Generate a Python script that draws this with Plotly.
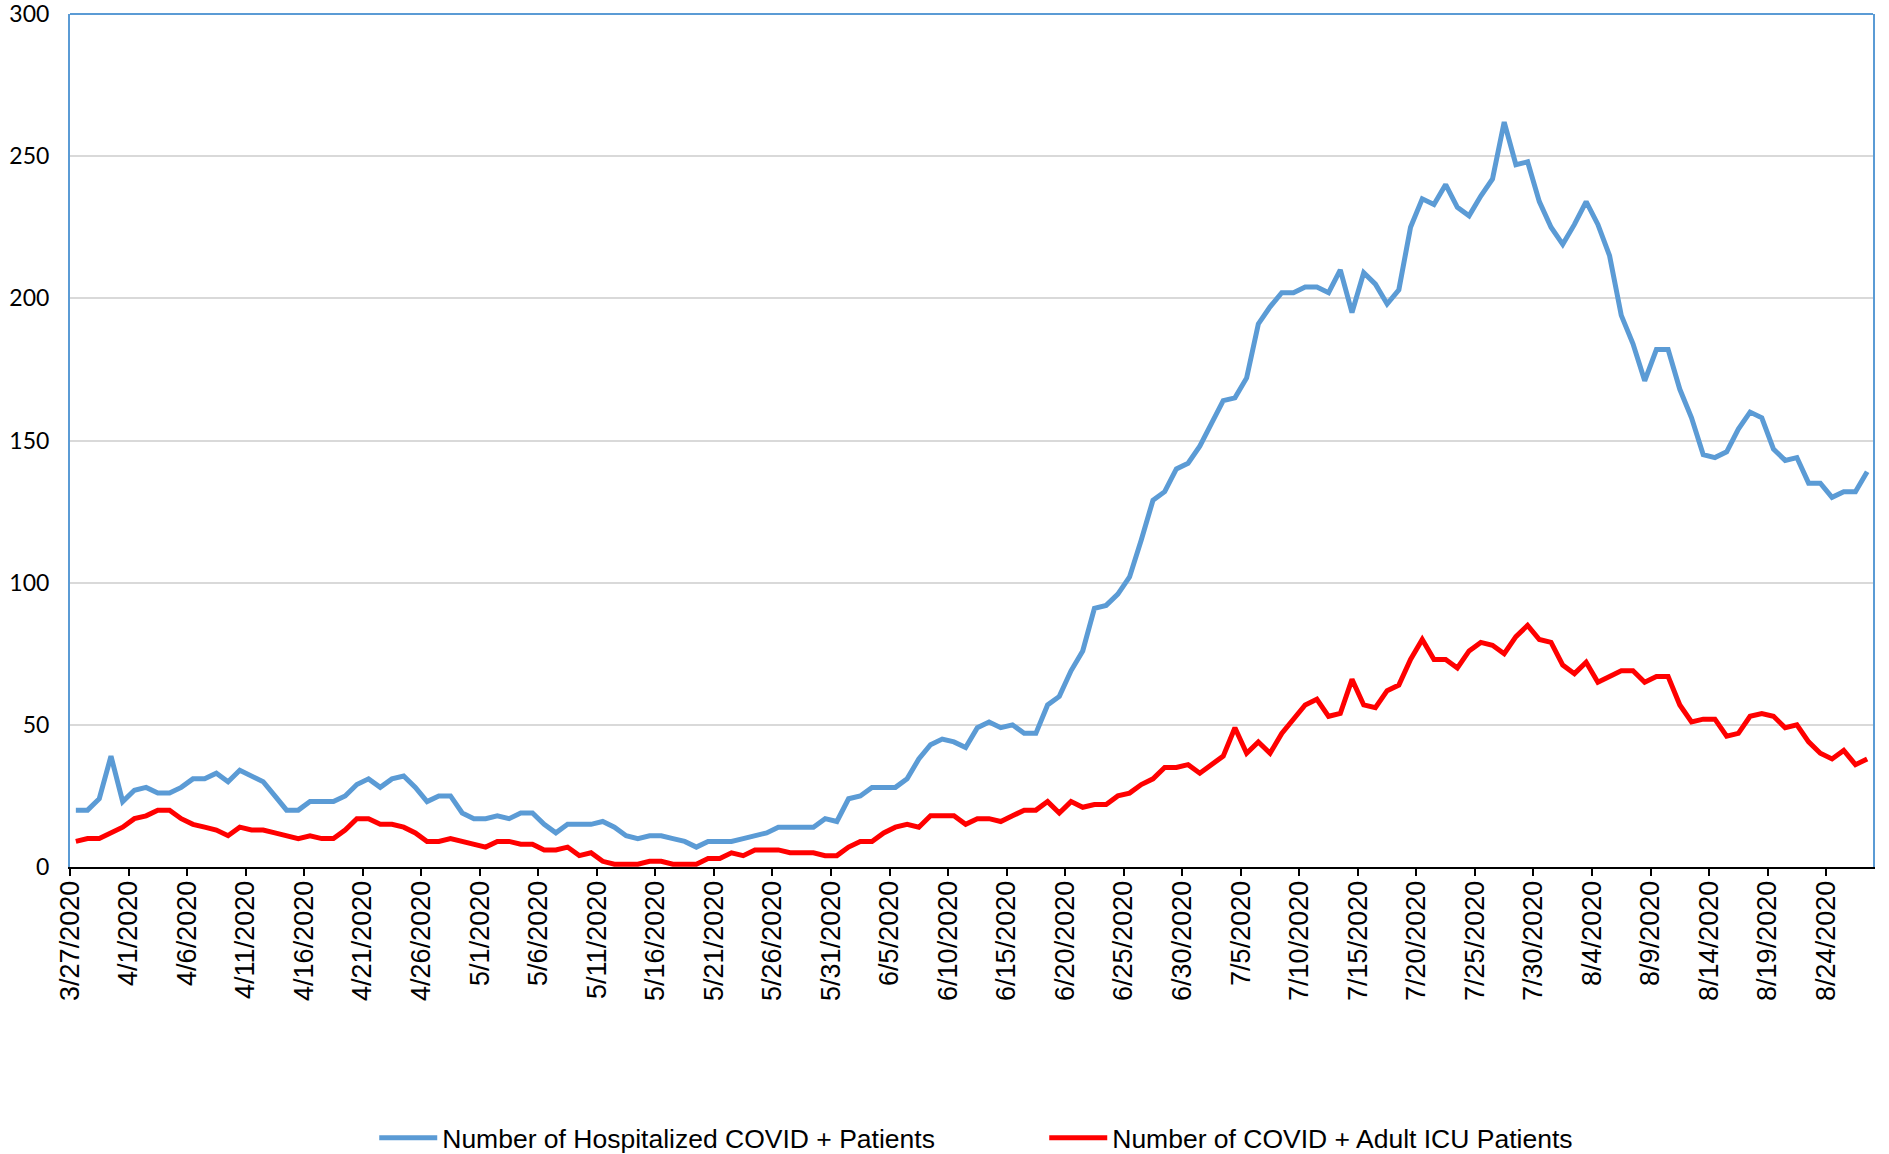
import pandas as pd
import plotly.graph_objects as go

dates = pd.date_range("2020-03-27", "2020-08-27", freq="D")

hospitalized = [
    20, 20, 24, 39, 23, 27, 28, 26, 26, 28, 31, 31, 33, 30, 34, 32, 30, 25, 20, 20,
    23, 23, 23, 25, 29, 31, 28, 31, 32, 28, 23, 25, 25, 19, 17, 17, 18, 17, 19, 19,
    15, 12, 15, 15, 15, 16, 14, 11, 10, 11, 11, 10, 9, 7, 9, 9, 9, 10, 11, 12,
    14, 14, 14, 14, 17, 16, 24, 25, 28, 28, 28, 31, 38, 43, 45, 44, 42, 49, 51, 49,
    50, 47, 47, 57, 60, 69, 76, 91, 92, 96, 102, 115, 129, 132, 140, 142, 148, 156, 164, 165,
    172, 191, 197, 202, 202, 204, 204, 202, 210, 195, 209, 205, 198, 203, 225, 235, 233, 240, 232, 229,
    236, 242, 262, 247, 248, 234, 225, 219, 226, 234, 226, 215, 194, 184, 171, 182, 182, 168, 158, 145,
    144, 146, 154, 160, 158, 147, 143, 144, 135, 135, 130, 132, 132, 139,
]

icu = [
    9, 10, 10, 12, 14, 17, 18, 20, 20, 17, 15, 14, 13, 11, 14, 13, 13, 12, 11, 10,
    11, 10, 10, 13, 17, 17, 15, 15, 14, 12, 9, 9, 10, 9, 8, 7, 9, 9, 8, 8,
    6, 6, 7, 4, 5, 2, 1, 1, 1, 2, 2, 1, 1, 1, 3, 3, 5, 4, 6, 6,
    6, 5, 5, 5, 4, 4, 7, 9, 9, 12, 14, 15, 14, 18, 18, 18, 15, 17, 17, 16,
    18, 20, 20, 23, 19, 23, 21, 22, 22, 25, 26, 29, 31, 35, 35, 36, 33, 36, 39, 49,
    40, 44, 40, 47, 52, 57, 59, 53, 54, 66, 57, 56, 62, 64, 73, 80, 73, 73, 70, 76,
    79, 78, 75, 81, 85, 80, 79, 71, 68, 72, 65, 67, 69, 69, 65, 67, 67, 57, 51, 52,
    52, 46, 47, 53, 54, 53, 49, 50, 44, 40, 38, 41, 36, 38,
]

y_ticks = [0, 50, 100, 150, 200, 250, 300]

series_names = ["Number of Hospitalized COVID + Patients", "Number of COVID + Adult ICU Patients"]
series_colors = ["#5B9BD5", "#FF0000"]

# each day's point sits in the middle of its day slot (Excel date axis "between tick marks")
x_pos = dates + pd.Timedelta(hours=12)

fig = go.Figure()
for name, vals, col in zip(series_names, [hospitalized, icu], series_colors):
    fig.add_trace(go.Scatter(
        x=x_pos, y=vals, mode="lines", name=name,
        line=dict(color=col, width=5),
    ))

fig.update_layout(
    width=1889, height=1154,
    margin=dict(l=70, r=16, t=14, b=287),
    paper_bgcolor="white", plot_bgcolor="white",
    showlegend=True,
    legend=dict(
        orientation="h", xref="container", yref="container",
        x=0.5528, xanchor="center", y=0.0138, yanchor="middle",
        font=dict(family="Liberation Sans, Arial", size=26.5, color="black"),
        entrywidth=597, entrywidthmode="pixels", itemwidth=58,
        bgcolor="rgba(0,0,0,0)",
    ),
    shapes=[dict(type="line", xref="paper", yref="paper", x0=0, x1=1, y0=1, y1=1,
                 line=dict(color="#5B9BD5", width=2))],
)

fig.update_xaxes(
    type="date", automargin=False,
    range=[dates[0], dates[-1] + pd.Timedelta(days=1)],
    tick0=dates[0], dtick=5 * 86400000,
    tickformat="%-m/%-d/%Y", tickangle=-90,
    ticks="outside", ticklen=7, tickwidth=2, tickcolor="black",
    showline=True, linecolor="black", linewidth=2,
    showgrid=False, zeroline=False, ticklabelstandoff=-6,
    tickfont=dict(family="Liberation Sans, Arial", size=27, color="black"),
)

fig.update_yaxes(
    automargin=False,
    range=[0, 300.001], tickmode="array", tickvals=y_ticks,
    ticklabeloverflow="allow",
    showgrid=True, gridcolor="#D9D9D9", gridwidth=1.5,
    showline=True, linecolor="#5B9BD5", linewidth=2, mirror=True,
    zeroline=False, ticks="", ticklabelstandoff=14,
    tickfont=dict(family="Lato", size=23, color="black"),
)

fig.write_html(
    "out.html",
    config={"displayModeBar": False},
    post_script="document.body.style.margin='0';document.body.style.overflow='hidden';",
)
